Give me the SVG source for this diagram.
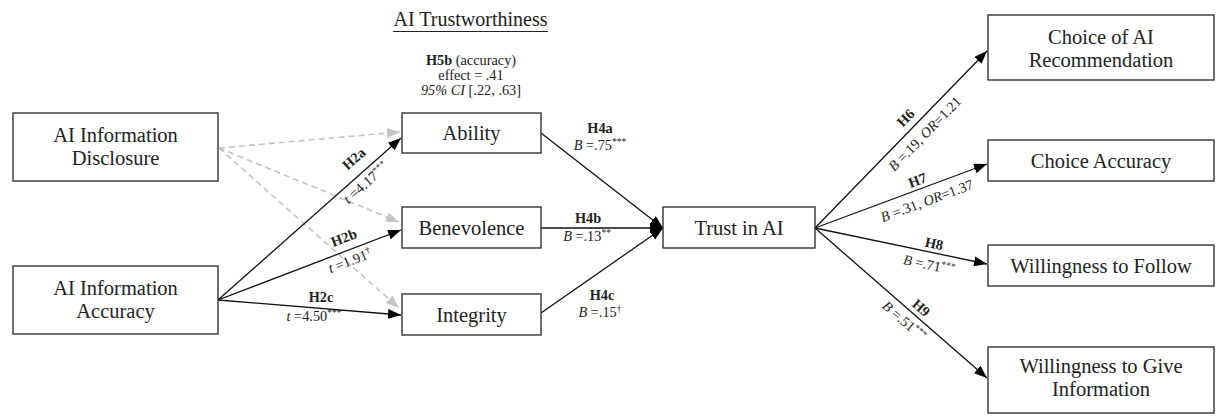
<svg xmlns="http://www.w3.org/2000/svg" width="1224" height="417" viewBox="0 0 1224 417">
<style>
.box{fill:#fff;stroke:#333;stroke-width:1.4}
.nt{font-family:"Liberation Serif","Times New Roman",serif;font-size:20.5px;fill:#222;text-anchor:middle}
.lb{font-family:"Liberation Serif","Times New Roman",serif;font-size:14.3px;fill:#222;text-anchor:middle}
.b{font-weight:bold}
.i{font-style:italic}
.sup{font-size:9.5px}
.solid{stroke:#111;stroke-width:1.3;fill:none;marker-end:url(#ah)}
.dash{stroke:#c4c4c4;stroke-width:1.6;fill:none;stroke-dasharray:6 4;marker-end:url(#ahg)}
</style>
<defs>
<marker id="ah" markerUnits="userSpaceOnUse" markerWidth="14" markerHeight="10" refX="13" refY="5" orient="auto">
<path d="M0,0 L13,5 L0,10 z" fill="#000"/>
</marker>
<marker id="ahg" markerUnits="userSpaceOnUse" markerWidth="14" markerHeight="10" refX="13" refY="5" orient="auto">
<path d="M0,0 L13,5 L0,10 z" fill="#c4c4c4"/>
</marker>
</defs>

<g id="title">
<text class="nt" x="470.5" y="26" style="font-size:20px">AI Trustworthiness</text>
<line x1="393" y1="31.5" x2="548" y2="31.5" stroke="#222" stroke-width="1"/>
</g>

<g id="h5b">
<text class="lb" x="471" y="65"><tspan class="b">H5b</tspan> (accuracy)</text>
<text class="lb" x="471" y="80">effect = .41</text>
<text class="lb" x="471" y="95"><tspan class="i">95% CI</tspan> [.22, .63]</text>
</g>

<g id="connectors">
<line class="dash" x1="219" y1="148" x2="400" y2="132"/>
<line class="dash" x1="219" y1="148" x2="399" y2="222"/>
<line class="dash" x1="219" y1="148" x2="399" y2="308"/>
<line class="solid" x1="218" y1="300" x2="401" y2="138"/>
<line class="solid" x1="218" y1="300" x2="401" y2="230"/>
<line class="solid" x1="218" y1="300" x2="401" y2="315"/>
<line class="solid" x1="541" y1="133" x2="663" y2="228"/>
<line class="solid" x1="541" y1="228" x2="663" y2="228"/>
<line class="solid" x1="541" y1="313" x2="663" y2="228"/>
<line class="solid" x1="815" y1="228" x2="987" y2="51"/>
<line class="solid" x1="815" y1="228" x2="987" y2="164"/>
<line class="solid" x1="815" y1="228" x2="987" y2="264"/>
<line class="solid" x1="815" y1="228" x2="987" y2="378"/>
</g>

<g id="edge-labels">
<text class="lb b" transform="translate(354 159) rotate(-41.5)" dy="4.5">H2a</text>
<text class="lb" transform="translate(366 183) rotate(-41.5)" dy="4.5"><tspan class="i">t</tspan> =4.17<tspan class="sup" dy="-5">***</tspan></text>
<text class="lb b" transform="translate(344 238) rotate(-21)" dy="4.5">H2b</text>
<text class="lb" transform="translate(350 261) rotate(-21)" dy="4.5"><tspan class="i">t</tspan> =1.91<tspan class="sup" dy="-5">†</tspan></text>
<text class="lb b" x="321" y="302">H2c</text>
<text class="lb" x="314" y="321"><tspan class="i">t</tspan> =4.50<tspan class="sup" dy="-5">***</tspan></text>

<text class="lb b" x="600" y="133">H4a</text>
<text class="lb" x="600" y="150"><tspan class="i">B</tspan> =.75<tspan class="sup" dy="-5">***</tspan></text>
<text class="lb b" x="588" y="223">H4b</text>
<text class="lb" x="587" y="241"><tspan class="i">B</tspan> =.13<tspan class="sup" dy="-5">**</tspan></text>
<text class="lb b" x="602" y="300">H4c</text>
<text class="lb" x="600" y="317"><tspan class="i">B</tspan> =.15<tspan class="sup" dy="-5">†</tspan></text>

<text class="lb b" transform="translate(906 118) rotate(-45.8)" dy="4.5">H6</text>
<text class="lb" transform="translate(925 134) rotate(-45.8)" dy="4.5"><tspan class="i">B</tspan> =.19, <tspan class="i">OR</tspan>=1.21</text>
<text class="lb b" transform="translate(917.5 180.5) rotate(-20.4)" dy="4.5">H7</text>
<text class="lb" transform="translate(927 201) rotate(-20.4)" dy="4.5"><tspan class="i">B</tspan> =.31, <tspan class="i">OR</tspan>=1.37</text>
<text class="lb b" transform="translate(934 244) rotate(11.8)" dy="4.5">H8</text>
<text class="lb" transform="translate(929 265) rotate(11.8)" dy="4.5"><tspan class="i">B</tspan> =.71<tspan class="sup" dy="-5">***</tspan></text>
<text class="lb b" transform="translate(921 308) rotate(41.1)" dy="4.5">H9</text>
<text class="lb" transform="translate(904 321) rotate(41.1)" dy="4.5"><tspan class="i">B</tspan> =.51<tspan class="sup" dy="-5">***</tspan></text>
</g>

<g id="n-disclosure">
<rect class="box" x="13" y="113" width="205" height="68"/>
<text class="nt" x="115.5" y="142">AI Information</text>
<text class="nt" x="115.5" y="165">Disclosure</text>
</g>
<g id="n-accuracy">
<rect class="box" x="13" y="266" width="205" height="68"/>
<text class="nt" x="115.5" y="295">AI Information</text>
<text class="nt" x="115.5" y="318">Accuracy</text>
</g>
<g id="n-ability">
<rect class="box" x="402" y="113" width="139" height="40"/>
<text class="nt" x="471.5" y="140">Ability</text>
</g>
<g id="n-benevolence">
<rect class="box" x="402" y="207" width="139" height="41"/>
<text class="nt" x="471.5" y="235">Benevolence</text>
</g>
<g id="n-integrity">
<rect class="box" x="402" y="294" width="139" height="41"/>
<text class="nt" x="471.5" y="322">Integrity</text>
</g>
<g id="n-trust">
<rect class="box" x="663" y="207" width="152" height="41"/>
<text class="nt" x="739" y="235">Trust in AI</text>
</g>
<g id="n-choice-rec">
<rect class="box" x="988" y="15" width="226" height="65"/>
<text class="nt" x="1101" y="44">Choice of AI</text>
<text class="nt" x="1101" y="67">Recommendation</text>
</g>
<g id="n-choice-acc">
<rect class="box" x="988" y="140" width="226" height="41"/>
<text class="nt" x="1101" y="168">Choice Accuracy</text>
</g>
<g id="n-follow">
<rect class="box" x="988" y="245" width="226" height="41"/>
<text class="nt" x="1101" y="273">Willingness to Follow</text>
</g>
<g id="n-give">
<rect class="box" x="988" y="347" width="226" height="66"/>
<text class="nt" x="1101" y="373">Willingness to Give</text>
<text class="nt" x="1101" y="396">Information</text>
</g>
</svg>
